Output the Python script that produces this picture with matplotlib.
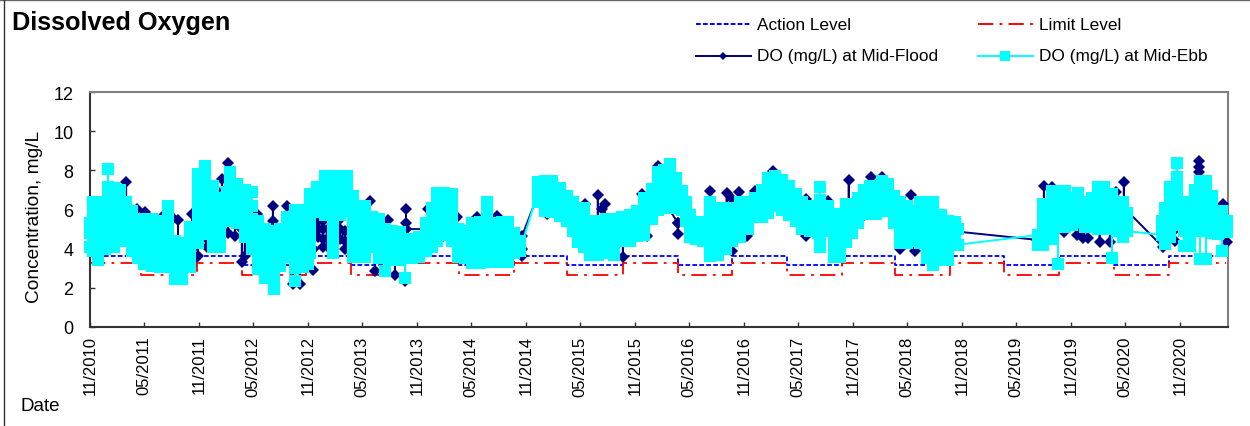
import numpy as np
import pandas as pd
import matplotlib
matplotlib.use("Agg")
import matplotlib.pyplot as plt
from matplotlib.lines import Line2D

plt.rcParams['font.family'] = ['Liberation Sans', 'DejaVu Sans']
plt.rcParams['lines.scale_dashes'] = False

W, H = 1250, 427
start = pd.Timestamp('2010-11-01')

tick_labels = ['11/2010', '05/2011', '11/2011', '05/2012', '11/2012', '05/2013', '11/2013',
               '05/2014', '11/2014', '05/2015', '11/2015', '05/2016', '11/2016', '05/2017',
               '11/2017', '05/2018', '11/2018', '05/2019', '11/2019', '05/2020', '11/2020']

# criteria, days since 01/11/2010
step_days = [0, 171, 359, 509, 724, 875, 1056, 1237, 1421, 1598, 1786, 1970, 2151, 2336, 2520,
             2698, 2882, 3063, 3247, 3432, 3616, 3807]
action_vals = [3.65, 3.15, 3.65, 3.15, 3.65, 3.15, 3.65, 3.15, 3.65, 3.15, 3.65, 3.15, 3.65, 3.15,
               3.65, 3.15, 3.65, 3.15, 3.65, 3.15, 3.65, 3.65]
limit_vals = [3.28, 2.63, 3.28, 2.63, 3.28, 2.63, 3.28, 2.63, 3.28, 2.63, 3.28, 2.63, 3.28, 2.63,
              3.28, 2.63, 3.28, 2.63, 3.28, 2.63, 3.28, 3.28]

# readings per survey group, days since 01/11/2010
ebb_days = [0, 10, 27, 50, 60, 80, 100, 120, 140, 160, 180, 208, 235, 260, 285, 308, 335, 362, 386,
            412, 436, 459, 470, 493, 520, 543, 563, 586, 617, 637, 660, 687, 714, 730, 737, 760,
            787, 814, 838, 861, 881, 905, 922, 945, 968, 988, 1012, 1039, 1056, 1079, 1102, 1126,
            1146, 1163, 1186, 1213, 1233, 1257, 1280, 1307, 1330, 1354, 1381, 1401, 1421, 1441,
            1501, 1525, 1548, 1575, 1598, 1619, 1635, 1655, 1676, 1702, 1729, 1756, 1783, 1810,
            1833, 1856, 1883, 1903, 1923, 1944, 1964, 1984, 1997, 2011, 2031, 2054, 2078, 2104,
            2131, 2151, 2178, 2205, 2228, 2252, 2272, 2295, 2319, 2342, 2366, 2386, 2413, 2440,
            2446, 2473, 2493, 2513, 2533, 2553, 2573, 2593, 2613, 2634, 2654, 2674, 2694, 2714,
            2738, 2758, 2781, 2805, 2825, 2852, 2875, 2898, 2908, 3177, 3193, 3217, 3224, 3244,
            3267, 3291, 3311, 3334, 3358, 3378, 3398, 3425, 3445, 3462, 3475, 3592, 3602, 3619,
            3642, 3666, 3686, 3703, 3720, 3740, 3760, 3780, 3793, 3810]
ebb_do = [
    [5.3, 4.8, 4.1], [6.4, 5.9, 5.4, 4.9, 4.4, 3.9], [6.4, 5.9, 5.4, 4.9, 4.4, 3.9, 3.4],
    [6.2, 5.6, 5.0, 4.5, 4.0], [4.2, 4.8, 5.4, 6.0, 6.6, 7.15, 8.07, 7.15],
    [7.1, 6.6, 6.0, 5.5, 5.0, 4.4, 4.1], [7.0, 6.5, 6.0, 5.5, 5.2], [6.4, 5.9, 5.4, 4.9, 4.4],
    [5.9, 5.4, 4.9, 4.4, 3.9], [5.4, 4.9, 4.4, 3.9, 3.5], [5.5, 5.0, 4.5, 4.0, 3.5, 3.2],
    [5.5, 5.0, 4.5, 4.0, 3.5, 3.1], [5.4, 4.9, 4.4, 3.9, 3.5, 3.05],
    [6.2, 5.6, 5.2, 4.7, 4.2, 3.7, 3.05], [4.4, 3.9, 3.4, 2.95, 2.45], [4.3, 3.8, 3.3, 2.9, 2.45],
    [5.1, 4.6, 4.1, 3.6, 3.05], [7.8, 7.3, 6.8, 6.3, 5.8, 5.3, 4.8, 4.3],
    [8.2, 7.7, 7.2, 6.7, 6.2, 5.7, 5.2, 4.75], [7.2, 6.7, 6.2, 5.7, 5.2, 4.7, 4.1],
    [6.6, 6.1, 5.6, 5.1, 4.6, 4.1], [6.9, 6.4, 5.9, 5.4], [7.9, 7.4, 6.9, 6.4, 5.9, 5.4],
    [7.3, 6.8, 6.3, 5.8, 5.3], [7.0, 6.5, 6.0, 5.5, 5.0, 4.6], [6.9, 6.2, 5.5, 5.0, 4.5, 4.0],
    [5.4, 4.9, 4.4, 3.9, 3.4, 2.95], [5.0, 4.5, 4.0, 3.5, 3.0, 2.5],
    [4.9, 4.4, 3.9, 3.4, 2.9, 2.4, 1.95], [5.0, 4.5, 4.0, 3.5, 3.1], [5.6, 5.1, 4.6, 4.1, 3.55],
    [6.0, 5.5, 5.0, 4.5, 4.0, 3.5, 3.0, 2.35], [6.0, 5.5, 5.0, 4.5, 4.0, 3.5, 3.05],
    [5.5, 5.0, 4.5, 4.0, 3.5, 3.2], [6.8, 6.3, 5.8, 5.3, 4.8, 4.3, 3.8], [7.15, 6.6, 6.1, 5.85],
    [7.7, 7.2, 6.7, 6.2, 5.7], [7.7, 7.2, 6.7, 6.2, 5.7, 5.2, 4.7, 4.2, 3.8],
    [7.7, 7.2, 6.7, 6.2, 5.7], [7.7, 7.2, 6.7, 6.2, 5.9], [6.7, 6.2, 5.7, 5.2, 4.7, 4.2, 3.55],
    [5.6, 5.1, 4.6, 4.1, 3.55], [6.2, 5.7, 5.2, 4.7, 4.2, 3.6], [5.6, 5.1, 4.6, 4.1],
    [5.5, 5.0, 4.5, 4.0, 3.5], [5.0, 4.5, 4.0, 3.5, 2.85], [4.9, 4.4, 3.9, 3.4],
    [4.85, 4.4, 3.9, 3.4], [4.5, 4.0, 3.5, 2.5, 3.5], [4.5, 4.0, 3.5], [4.6, 4.1, 3.6],
    [5.3, 4.8, 4.3, 3.9], [6.1, 5.6, 5.1, 4.6, 4.1], [6.85, 6.3, 5.8, 5.3, 4.8, 4.4],
    [6.85, 6.3, 5.8, 5.3, 4.7], [6.8, 6.3, 5.8, 5.4, 4.9, 4.4], [5.0, 4.5, 4.0, 3.6],
    [4.9, 4.4, 3.9, 3.5], [5.3, 4.8, 4.3, 3.8, 3.25], [5.35, 4.8, 4.3, 3.8, 3.25],
    [6.4, 5.9, 5.35, 4.8, 4.3, 3.8, 3.3], [5.3, 4.8, 4.3, 3.8, 3.3], [5.35, 4.8, 4.3, 3.8, 3.3],
    [5.35, 4.8, 4.3, 3.8, 3.3], [4.8, 4.3, 3.8], [4.4, 3.9],
    [6.9, 6.4, 7.4], [7.45, 6.9, 6.4, 5.9], [7.45, 6.9, 6.4, 5.85], [7.1, 6.6, 6.1, 5.65],
    [6.7, 6.2, 5.6, 5.4], [6.4, 5.9, 5.4, 4.9], [6.1, 5.6, 5.1, 4.6, 4.35],
    [6.1, 5.6, 5.1, 4.6, 4.1], [5.4, 4.9, 4.4, 3.9, 3.7], [5.4, 4.9, 4.4, 3.9, 3.7],
    [5.5, 5.0, 4.5, 4.0, 3.8], [5.5, 5.0, 4.5, 4.0, 3.7], [5.6, 5.1, 4.7, 4.4],
    [5.7, 5.2, 4.7, 4.4], [5.9, 5.4, 4.9, 4.65], [6.6, 6.1, 5.6, 5.1, 4.7], [7.05, 6.6, 6.1, 5.5],
    [7.9, 7.4, 6.9, 6.4, 6.0], [8.0, 7.4, 6.9, 6.4, 6.2], [8.3, 7.8, 7.3, 6.8, 6.3, 6.1],
    [7.6, 7.1, 6.6, 6.1], [6.95, 6.4, 5.95], [6.4, 5.9, 5.4], [5.7, 5.2, 4.7, 4.6],
    [5.35, 4.9, 4.5], [5.35, 4.9, 4.4], [6.4, 5.9, 5.4, 4.9, 4.4, 3.9, 3.65],
    [6.1, 5.6, 5.1, 4.6, 4.1, 3.7], [6.1, 5.6, 5.1, 4.6, 4.0], [6.1, 5.6, 5.1, 4.7, 4.4],
    [6.4, 5.9, 5.4, 4.9, 4.6], [6.4, 5.9, 5.4, 5.0], [6.6, 6.1, 5.6], [7.0, 6.5, 6.0, 5.6],
    [7.6, 7.1, 6.6, 6.1, 5.8], [7.7, 7.2, 6.7, 6.2], [7.5, 7.0, 6.5, 6.0], [7.2, 6.7, 6.2, 5.7],
    [6.8, 6.3, 5.8, 5.4], [6.4, 5.9, 5.4, 5.0], [6.2, 5.7, 5.2, 4.9], [6.2, 5.7, 5.2, 4.8],
    [7.15, 6.5, 6.0, 5.5, 5.0, 4.5, 4.1], [6.2, 5.7, 5.2, 4.9], [5.6, 5.1, 4.6, 4.1, 3.55],
    [5.75, 5.2, 4.7, 4.2, 3.55], [6.3, 5.8, 5.3, 4.8, 4.35], [6.3, 5.8, 5.3, 4.8],
    [6.6, 6.1, 5.6, 5.3], [7.0, 6.5, 6.0, 5.75], [7.2, 6.7, 6.2, 5.9], [7.2, 6.7, 6.2, 5.75],
    [7.45, 6.9, 6.4, 5.9], [7.3, 6.8, 6.3, 5.9], [6.7, 6.2, 5.7, 5.3], [6.4, 5.9, 5.4, 4.9, 4.3],
    [6.2, 5.7, 5.2, 4.7, 4.3], [5.9, 5.4, 4.9, 4.4], [6.4, 5.9, 5.4, 4.9, 4.3],
    [6.4, 5.9, 5.4, 4.9, 4.4, 3.9, 3.5], [6.4, 5.9, 5.4, 4.9, 4.3, 3.8, 3.15],
    [5.7, 5.2, 4.7, 4.2, 3.7, 3.4], [5.4, 4.9, 4.4, 3.9, 3.4], [5.35, 4.8, 4.25], [5.0, 4.2],
    [4.7, 4.2], [6.3, 5.7, 5.2, 4.7, 4.2, 4.5], [6.3, 5.8, 5.3, 4.8, 4.5],
    [6.95, 6.4, 5.9, 5.4, 4.9, 4.5], [6.95, 6.4, 5.9, 5.4, 5.1, 3.2, 5.1],
    [6.95, 6.4, 5.9, 5.4, 5.1], [6.6, 6.1, 5.6, 5.2], [6.85, 6.3, 5.8, 5.35], [6.4, 5.9, 5.4, 5.1],
    [6.6, 6.1, 5.6, 5.1], [7.15, 6.6, 6.1, 5.6, 5.0], [7.15, 6.6, 6.1, 5.6, 5.0],
    [6.8, 6.3, 5.8, 5.3, 5.0, 3.5, 5.0], [6.3, 5.8, 5.3, 4.9], [6.4, 5.9, 5.4, 4.9, 4.6],
    [5.8, 5.3, 4.9], [4.7, 4.9, 5.4], [6.1, 5.6, 5.1, 4.6, 4.25], [7.15, 6.6, 6.1, 5.6, 5.1, 4.6],
    [5.2, 5.7, 6.2, 6.7, 7.15, 7.65, 8.4, 7.65], [6.4, 5.9, 5.4, 4.9, 4.15],
    [6.0, 5.5, 5.0, 4.5, 4.15], [7.0, 6.5, 6.0, 5.5, 5.0, 4.9],
    [7.45, 6.9, 6.4, 5.9, 5.4, 4.9, 3.45, 4.9], [7.45, 6.9, 6.4, 5.9, 5.4, 4.9, 3.45, 4.9],
    [6.7, 6.2, 5.7, 5.2, 4.8], [5.9, 5.4, 4.9, 4.75], [5.9, 5.4, 4.9, 3.9, 4.9], [5.4, 4.85]]

flood_days = [0, 47, 94, 121, 157, 184, 241, 278, 295, 342, 362, 392, 422, 442, 462, 486, 509, 519,
              560, 613, 660, 680, 704, 747, 764, 781, 797, 838, 855, 871, 881, 938, 955, 999, 1022,
              1056, 1059, 1133, 1173, 1230, 1297, 1364, 1448, 1505, 1531, 1659, 1702, 1716, 1726,
              1786, 1850, 1867, 1903, 1970, 2078, 2121, 2134, 2151, 2175, 2202, 2228, 2289, 2399,
              2473, 2537, 2543, 2587, 2617, 2654, 2714, 2751, 2765, 2908, 3174, 3197, 3224, 3264,
              3307, 3317, 3328, 3344, 3384, 3418, 3438, 3465, 3596, 3636, 3679, 3716, 3797, 3810]
flood_do = [
    [5.0], [5.5, 6.45, 5.5], [5.5, 5.6], [6.0, 7.39, 6.0], [5.0, 6.03, 5.0], [4.5, 5.87, 4.97, 4.5],
    [4.5, 5.6, 4.5], [4.0, 5.56, 4.0], [4.0, 5.48, 4.0], [4.0, 5.77, 4.0], [4.5, 3.64, 4.5],
    [4.5, 4.1, 5.0], [5.5, 7.0, 5.5], [5.5, 7.56, 5.5], [6.0, 8.38, 6.0, 4.8, 6.0], [6.0, 4.65, 5.5],
    [5.0, 3.32, 5.0], [5.0, 3.64, 5.0], [5.0, 5.77, 5.0], [4.5, 6.2, 5.43, 4.5], [4.5, 6.17, 4.5],
    [3.5, 2.2, 3.5], [3.5, 2.2, 3.5], [4.0, 2.93, 4.0], [5.4, 5.0, 4.6], [5.4, 5.0, 4.5, 4.1],
    [5.0, 4.5, 4.1], [5.5, 5.0, 4.5], [4.9, 4.4, 4.0], [4.0], [5.5, 6.45, 5.5], [5.5, 6.43, 5.5],
    [4.0, 2.87, 4.0], [4.5, 5.48, 4.5], [3.8, 2.65, 3.8], [3.8, 2.36, 3.8], [5.0, 6.03, 5.3, 5.0],
    [5.0, 6.03, 5.0], [5.0, 4.5, 5.0], [5.0, 5.6, 5.0], [4.5, 5.6, 4.5], [4.5, 5.68, 4.5],
    [4.0, 3.64, 4.65], [6.9], [6.5, 5.77, 6.5], [5.0, 6.28, 5.2, 5.0], [5.0, 6.74, 5.0],
    [5.0, 6.03, 5.0], [5.0, 6.28, 5.0], [4.5, 3.56, 4.5], [5.5, 6.8, 5.5], [5.5, 4.66, 5.5],
    [7.0, 8.24, 7.0], [5.3, 4.75, 5.3], [5.0, 6.96, 5.0], [5.0, 4.03, 5.0], [5.0, 6.84, 5.0],
    [5.0, 6.54, 5.0, 3.9, 5.0], [5.2, 6.87, 5.2], [5.2, 4.66, 5.2], [6.0, 6.96, 6.0],
    [7.0, 7.98, 7.0], [5.5, 6.54, 5.5, 4.65, 5.5], [5.5, 6.45, 5.5], [5.5, 4.85, 5.5],
    [5.5, 7.52, 5.5], [6.2, 5.6, 6.2], [6.5, 7.68, 6.5], [6.5, 7.68, 6.5], [5.0, 3.98, 5.0],
    [5.0, 6.74, 5.0, 4.33, 5.0], [5.0, 3.9, 5.0], [4.87], [4.45], [5.5, 7.2, 5.5], [5.5, 7.15, 5.5],
    [5.5, 4.85, 5.5], [5.5, 4.7, 5.5], [5.5, 4.8, 5.5], [5.5, 4.55, 5.5], [5.5, 4.55, 5.5],
    [5.5, 4.33, 5.5], [5.5, 4.33, 5.5], [5.5, 6.87, 5.5], [5.8, 7.4, 5.8, 6.1], [4.08, 5.0],
    [5.0, 4.4, 5.0], [5.5, 6.2, 5.8], [6.5, 7.9, 8.17, 8.5, 6.5], [5.5, 6.28, 5.5], [5.0, 4.33]]


def to_dates(days):
    return [start + pd.Timedelta(days=int(d)) for d in days]


def flatten(days, groups):
    x = [d for d, g in zip(days, groups) for _ in g]
    y = [v for g in groups for v in g]
    return to_dates(x), y


fig = plt.figure(figsize=(W / 100, H / 100), dpi=100)
ax = fig.add_axes([90 / W, 1 - 328 / H, 1138 / W, 235 / H])

line_action, = ax.plot(to_dates(step_days), action_vals, drawstyle='steps-post', color='#0000ff',
                       lw=1.3, dashes=(3.4, 1.6), zorder=2)
line_limit, = ax.plot(to_dates(step_days), limit_vals, drawstyle='steps-post', color='#ff0000',
                      lw=1.3, dashes=(11, 4.5, 2, 4.5), zorder=2)

fx, fy = flatten(flood_days, flood_do)
ex, ey = flatten(ebb_days, ebb_do)
line_flood, = ax.plot(fx, fy, color='#000080', lw=1.4, marker='D', ms=6.2, mew=0, zorder=3, clip_on=False)
line_ebb, = ax.plot(ex, ey, color='#00ffff', lw=1.4, marker='s', ms=8.0, mew=0, zorder=4, clip_on=False)

ax.set_xlim(start, start + pd.Timedelta(days=3814))
ax.set_ylim(0, 12)
ax.set_yticks(range(0, 13, 2))
tick_dates = [pd.to_datetime(t, format='%m/%Y') for t in tick_labels]
ax.set_xticks(tick_dates)
ax.set_xticklabels(tick_labels, rotation=90, ha='center', va='top', fontsize=12)
ax.tick_params(axis='x', direction='in', length=3.6, width=1, color='#333333', pad=6)
ax.tick_params(axis='y', direction='in', length=3.6, width=1, color='#333333', labelsize=13, pad=12)

for side, col in [('left', '#333333'), ('bottom', '#333333'), ('top', '#808080'), ('right', '#808080')]:
    ax.spines[side].set_color(col)
    ax.spines[side].set_linewidth(1.5)

fig.text(35 / W, 1 - 217 / H, 'Concentration, mg/L', rotation=90, fontsize=13.8, ha='center', va='center')
fig.text(21 / W, 1 - 407 / H, 'Date', fontsize=13.5, ha='left', va='center')
fig.text(12 / W, 1 - 23 / H, 'Dissolved Oxygen', fontsize=18.2, fontweight='bold', ha='left', va='center')

# legend keys by hand, same spots as the source sheet
leg = [(line_action, 'Action Level', 696, 25), (line_limit, 'Limit Level', 978, 25),
       (line_flood, 'DO (mg/L) at Mid-Flood', 696, 57), (line_ebb, 'DO (mg/L) at Mid-Ebb', 978, 57)]
for ln, label, px, py in leg:
    key = Line2D([px / W, (px + 55) / W], [1 - py / H, 1 - py / H], transform=fig.transFigure,
                 color=ln.get_color(), lw=1.4)
    if ln is line_action:
        key.set_dashes((3.4, 1.6))
    elif ln is line_limit:
        key.set_dashes((11, 4.5, 2, 4.5))
    fig.add_artist(key)
    if ln is line_flood:
        fig.add_artist(Line2D([(px + 27) / W], [1 - py / H], transform=fig.transFigure, marker='D',
                              ms=3.8, mew=0, color=ln.get_color()))
    elif ln is line_ebb:
        fig.add_artist(Line2D([(px + 27) / W], [1 - py / H], transform=fig.transFigure, marker='s',
                              ms=7, mew=0, color=ln.get_color()))
    fig.text((px + 61) / W, 1 - py / H, label, fontsize=12.4, ha='left', va='center')

# sheet border
fig.add_artist(Line2D([0, 1], [1 - 0.5 / H, 1 - 0.5 / H], transform=fig.transFigure, color='#666666', lw=1))
fig.add_artist(Line2D([3.5 / W, 3.5 / W], [0, 1], transform=fig.transFigure, color='#333333', lw=1))

fig.savefig('out.png', dpi=100)
